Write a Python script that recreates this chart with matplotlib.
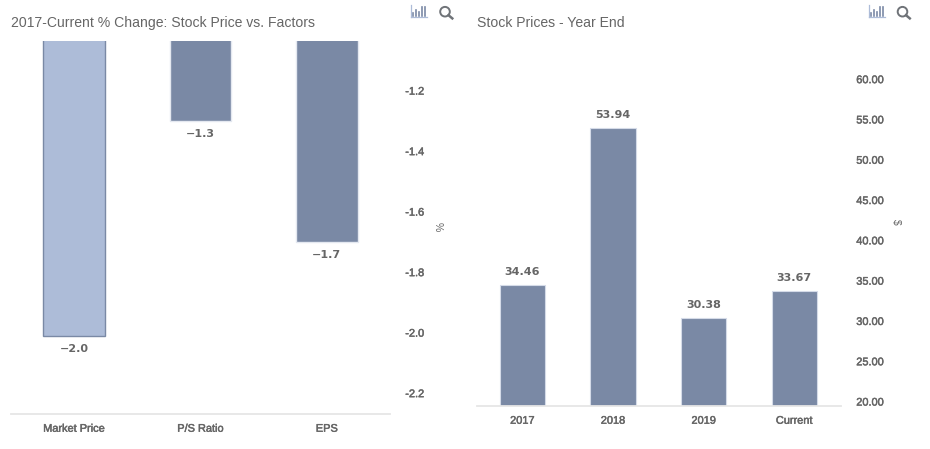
#!/usr/bin/env python3
# -*- coding: utf-8 -*-
import matplotlib
matplotlib.use('Agg')
import matplotlib.pyplot as plt
import matplotlib.patheffects as pe
from matplotlib.lines import Line2D
from matplotlib.patches import Circle

matplotlib.rcParams['font.family'] = ['Liberation Sans', 'DejaVu Sans']

# data
factor_names = ['Market Price', 'P/S Ratio', 'EPS']
factor_values = [-2.01, -1.3, -1.7]
factor_labels = ['\u22122.0', '\u22121.3', '\u22121.7']
factor_ticks = [-1.2, -1.4, -1.6, -1.8, -2.0, -2.2]

year_names = ['2017', '2018', '2019', 'Current']
year_prices = [34.46, 53.94, 30.38, 33.67]
price_ticks = [20, 25, 30, 35, 40, 45, 50, 55, 60]

W, H = 930, 449
GREY = '#666666'
DARK = '#7a89a5'
LIGHT = '#adbcd8'
AXIS = '#e6e6e6'
HEAVY = [pe.withStroke(linewidth=0.35, foreground=GREY)]

fig = plt.figure(figsize=(W / 100, H / 100), dpi=100)


def px_axes(left, top, right, bottom):
    ax = fig.add_axes([left / W, 1 - bottom / H, (right - left) / W, (bottom - top) / H])
    for s in ['top', 'left', 'right']:
        ax.spines[s].set_visible(False)
    ax.spines['bottom'].set_color(AXIS)
    ax.spines['bottom'].set_linewidth(1.3)
    ax.yaxis.tick_right()
    ax.tick_params(axis='both', length=0, colors=GREY, labelsize=7.9)
    ax.patch.set_alpha(0)
    return ax


def icons(x0, x1):
    # chart and search buttons of the toolbar
    for dx, h in [(2, 3), (5, 6), (8, 4), (11, 9), (14, 9)]:
        fig.add_artist(Line2D([(x0 + dx) / W] * 2, [1 - 15.5 / H, 1 - (15.5 - h) / H],
                              color=DARK, lw=1.2))
    fig.add_artist(Line2D([x0 / W, (x0 + 16) / W], [1 - 16.5 / H] * 2, color=LIGHT, lw=0.9))
    fig.add_artist(Line2D([x0 / W] * 2, [1 - 16.5 / H, 1 - 5 / H], color=LIGHT, lw=0.9))
    ax = fig.add_axes([0, 0, 1, 1], zorder=-1)
    ax.set_xlim(0, W)
    ax.set_ylim(H, 0)
    ax.axis('off')
    ax.add_patch(Circle((x1, 11.7), 4.8, fill=False, ec='#6f7378', lw=1.4))
    ax.plot([x1 + 3.5, x1 + 7.3], [15.2, 18.4], color='#6f7378', lw=1.8)


def soften(ax):
    for t in ax.get_xticklabels() + ax.get_yticklabels():
        t.set_path_effects(HEAVY)


# left chart
ax1 = px_axes(11, 41, 390, 414)
ax1.bar(range(3), factor_values, width=0.49, bottom=0,
        color=[LIGHT, DARK, DARK], edgecolor=[DARK, '#e4e8f0', '#e4e8f0'], linewidth=1)
ax1.set_xlim(-0.5, 2.5)
ax1.set_ylim(-2.269, -1.036)
ax1.set_xticks(range(3))
ax1.set_xticklabels(factor_names)
ax1.tick_params(axis='x', pad=7)
ax1.set_yticks(factor_ticks)
ax1.set_yticklabels(['%.1f' % t for t in factor_ticks])
ax1.tick_params(axis='y', pad=11)
soften(ax1)
for i, v in enumerate(factor_values):
    ax1.annotate(factor_labels[i], (i, v), xytext=(0, -6), textcoords='offset points',
                 ha='center', va='top', fontsize=8, fontweight='bold', color=GREY,
                 family=['DejaVu Sans'])

# right chart
ax2 = px_axes(477, 41, 841, 406)
ax2.bar(range(4), year_prices, width=0.5, color=DARK, edgecolor='#d5dbe8', linewidth=0.8)
ax2.set_xlim(-0.5, 3.515)
ax2.set_ylim(19.45, 64.73)
ax2.set_xticks(range(4))
ax2.set_xticklabels(year_names)
ax2.tick_params(axis='x', pad=7)
ax2.set_yticks(price_ticks)
ax2.set_yticklabels(['%.2f' % t for t in price_ticks])
ax2.tick_params(axis='y', pad=11)
soften(ax2)
for i, v in enumerate(year_prices):
    ax2.annotate('%.2f' % v, (i, v), xytext=(0, 6), textcoords='offset points',
                 ha='center', va='bottom', fontsize=8, fontweight='bold', color=GREY,
                 family=['DejaVu Sans'])

fig.text(11 / W, 1 - 23 / H, '2017-Current % Change: Stock Price vs. Factors',
         fontsize=10.1, color=GREY, va='center', ha='left')
fig.text(477 / W, 1 - 23 / H, 'Stock Prices - Year End',
         fontsize=10.1, color=GREY, va='center', ha='left')
fig.text(438 / W, 1 - 227 / H, '%', fontsize=7.5, color=GREY, rotation=-90, va='center', ha='center')
fig.text(896 / W, 1 - 222 / H, '$', fontsize=7.5, color=GREY, rotation=-90, va='center', ha='center')

icons(411, 445)
icons(868.5, 902.5)

fig.savefig('out.png', dpi=100)
